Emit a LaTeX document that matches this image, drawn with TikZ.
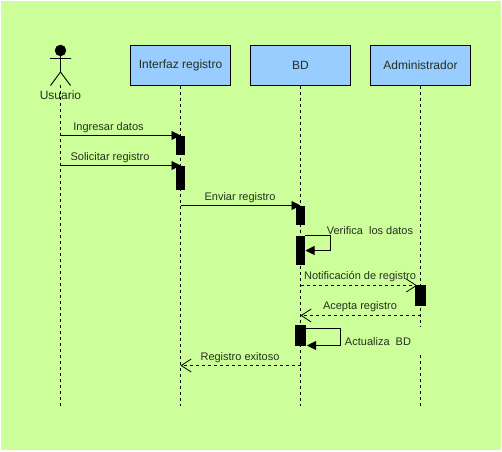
\documentclass[tikz,border=0pt]{standalone}
\usepackage{fontspec}
\setmainfont{Liberation Sans}
\usetikzlibrary{arrows.meta}
\definecolor{bgc}{HTML}{CCFF99}
\definecolor{boxc}{HTML}{99CCFF}
\definecolor{txt}{HTML}{26301F}
\tikzset{
  head/.style={draw=black,fill=boxc,line width=0.9pt,minimum width=100pt,minimum height=40pt,inner sep=0pt,text=txt,font=\fontsize{12}{14}\selectfont},
  lifeline/.style={line width=0.9pt,dash pattern=on 3pt off 3pt},
  bar/.style={draw=none,fill=black,inner sep=0pt,anchor=north west},
  msg/.style={line width=0.9pt,-{Triangle[length=9pt,width=9pt]}},
  reply/.style={line width=0.9pt,dash pattern=on 3pt off 3pt,-{Straight Barb[length=10pt,width=13pt,line width=0.8pt]}},
  lbl/.style={inner sep=0pt,text=txt,font=\fontsize{11}{13}\selectfont},
  figure/.style={line width=0.9pt}
}
\begin{document}
\begin{tikzpicture}[x=1pt,y=-1pt]
\useasboundingbox (0,0) rectangle (502,451);
\fill[white] (0,0) rectangle (502,451);
\fill[bgc] (1,1) rectangle (501,450);

% heads
\node[head] (ui) at (180.5,65.5) {Interfaz registro};
\node[head] (bd) at (300.5,65.5) {BD};
\node[head] (ad) at (420.5,65.5) {Administrador};

% lifeline ends
\coordinate (uTop) at (60.5,85);
\coordinate (uEnd) at (60.5,406);
\coordinate (iEnd) at (180.5,406);
\coordinate (bEnd) at (300.5,406);
\coordinate (aEnd) at (420.5,406);
\coordinate (aGapA) at (420.5,326);
\coordinate (aGapB) at (420.5,355);

\draw[lifeline] (uTop) -- (uEnd);
\draw[lifeline] (ui.south) -- (iEnd);
\draw[lifeline] (bd.south) -- (bEnd);
\draw[lifeline] (ad.south) -- (aGapA);
\draw[lifeline] (aGapB) -- (aEnd);

% actor
\node[circle,fill=black,draw=black,minimum size=11pt,inner sep=0pt] (hd) at (60.5,50.5) {};
\coordinate (hip) at (60.5,72);
\coordinate (armL) at (50,58.5);
\coordinate (armR) at (71,58.5);
\coordinate (legL) at (50.5,85.5);
\coordinate (legR) at (70.5,85.5);
\draw[figure] (hd) -- (hip) (armL) -- (armR) (legL) -- (hip) -- (legR);
\node[inner sep=0pt,text=txt,font=\fontsize{12}{14}\selectfont] (usr) at (60.5,95.5) {Usuario};

% activation bars
\node[bar,minimum width=9pt,minimum height=19pt] (a1) at (176,136) {};
\node[bar,minimum width=9pt,minimum height=24pt] (a2) at (176,166) {};
\node[bar,minimum width=9pt,minimum height=19pt] (a3) at (296,206) {};
\node[bar,minimum width=9pt,minimum height=29pt] (a4) at (296,236) {};
\node[bar,minimum width=11pt,minimum height=21pt] (a5) at (415,285) {};
\node[bar,minimum width=11pt,minimum height=21pt] (a6) at (295,325) {};

% message anchors
\coordinate (m1s) at (60.5,135.5);  \coordinate (m1e) at (180.5,135.5);
\coordinate (m2s) at (60.5,165.5);  \coordinate (m2e) at (180.5,165.5);
\coordinate (m3s) at (180.5,205.5); \coordinate (m3e) at (300.5,205.5);
\coordinate (m4s) at (305,235.5);   \coordinate (m4a) at (330.5,235.5);
\coordinate (m4b) at (330.5,250.5); \coordinate (m4e) at (305.5,250.5);
\coordinate (m5s) at (300.5,285.5); \coordinate (m5e) at (417,285.5);
\coordinate (m6s) at (420.5,315.5); \coordinate (m6e) at (300.5,315.5);
\coordinate (m7s) at (306,328.5);   \coordinate (m7a) at (340.5,328.5);
\coordinate (m7b) at (340.5,345.5); \coordinate (m7e) at (307,345.5);
\coordinate (m8s) at (300.5,365.5); \coordinate (m8e) at (180.5,365.5);

\draw[msg] (m1s) -- (m1e);
\draw[msg] (m2s) -- (m2e);
\draw[msg] (m3s) -- (m3e);
\draw[msg] (m4s) -- (m4a) -- (m4b) -- (m4e);
\draw[reply] (m5s) -- (m5e);
\draw[reply] (m6s) -- (m6e);
\draw[msg] (m7s) -- (m7a) -- (m7b) -- (m7e);
\draw[reply] (m8s) -- (m8e);

% labels
\node[lbl] (l1) at (108.5,127.5) {Ingresar datos};
\node[lbl] (l2) at (110,157.5) {Solicitar registro};
\node[lbl] (l3) at (240,197.5) {Enviar registro};
\node[lbl] (l4) at (370,231) {Verifica\ \ los datos};
\node[lbl] (l5) at (360,277) {Notificación de registro};
\node[lbl] (l6) at (360,307) {Acepta registro};
\node[lbl] (l7) at (378,342) {Actualiza\ \ BD};
\node[lbl] (l8) at (240,357.5) {Registro exitoso};
\end{tikzpicture}
\end{document}
